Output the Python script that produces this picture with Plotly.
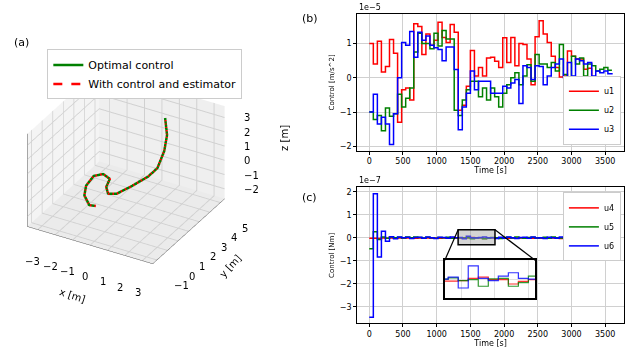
import plotly.graph_objects as go

# ---------------- data ----------------
STEP_TIMES = list(range(0, 3601, 60))  # s

u1 = [1.0, 0.4, 1.07, 0.17, 0.33, 1.12, 0.72, -1.3, -0.35, -0.3,
      -0.65, 1.58, 1.5, 0.68, 1.28, 0.95, 1.1, 1.62, 1.18, 1.03,
      1.56, 1.33, -0.95, -0.8, -0.25, 0.8, 0.05, 0.3, 0.05, 0.58,
      0.6, 0.48, 0.3, 1.17, 0.45, 1.18, 0.35, 1.0, 0.97, 0.55,
      -0.2, 1.2, 1.67, 1.28, 1.03, 0.63, 0.3, 0.02, 0.05, 0.78,
      0.63, 0.55, 0.55, 0.25, 0.28, 0.0, -0.02, -0.05, -0.03, -0.03, -0.03]
u2 = [-1.0, -1.22, -1.1, -1.55, -0.88, -1.12, -1.05, -0.48, -0.85, -0.6,
      -0.3, 0.75, 1.3, 1.0, 1.0, 0.85, 1.3, 0.93, 1.38, 1.13,
      1.13, -0.95, -1.1, -0.65, -0.35, -0.1, -0.1, -0.55, -0.3, -0.65,
      -0.3, -0.55, -0.85, -0.45, -0.2, 0.0, 0.15, -0.2, 0.05, 0.38,
      -0.1, 0.68, 0.4, 0.4, 0.3, 0.45, 0.2, 0.97, 0.1, 0.0,
      0.63, 0.4, 0.58, 0.05, 0.4, 0.35, 0.2, 0.25, 0.3, 0.22, 0.22]
u3 = [-1.0, -0.48, -1.35, -1.15, -1.35, -1.95, -1.05, 0.0, 1.03, 0.95,
      1.35, 0.6, 1.33, 1.1, 1.22, 0.95, 0.88, 0.83, 0.5, 0.9,
      0.9, 0.24, -1.52, -0.85, -0.45, 0.2, -0.35, -0.1, -0.1, -0.1,
      -0.45, -0.45, -0.45, -0.25, -0.3, -0.15, -0.05, -0.75, 0.35, 0.3,
      -0.05, 0.35, 0.33, -0.2, 0.05, 0.3, 0.4, 0.55, 0.0, 0.45,
      0.05, 0.55, 0.5, 0.4, 0.45, 0.05, 0.2, 0.15, 0.2, 0.12, 0.1]

u4 = [-0.02, -0.02, -0.03, -0.01, -0.02, -0.01, -0.02, -0.01, -0.02, -0.01,
      -0.01, -0.02, -0.01, -0.02, -0.01, -0.02, -0.01, -0.02, -0.01, -0.02,
      -0.01, -0.01, -0.01, -0.007, 0.004, 0.011, -0.002, -0.002, -0.025, -0.011,
      -0.002, -0.01, -0.02, -0.01, -0.02, -0.01, -0.02, -0.01, -0.02, -0.01,
      -0.02, -0.01, -0.02, -0.01, -0.02, -0.01, -0.02, -0.03, -0.02, -0.01,
      -0.02, -0.01, -0.02, -0.01, -0.02, -0.03, -0.02, -0.03, -0.04, -0.05, -0.05]
u5 = [-0.48, 0.26, -0.07, 0.04, -0.02, 0.03, 0.0, 0.02, -0.01, 0.03,
      0.0, 0.03, 0.01, -0.01, 0.02, 0.0, -0.02, 0.01, 0.0, 0.02,
      -0.02, 0.0, 0.007, -0.007, -0.002, -0.037, 0.002, 0.004, -0.037, -0.018,
      0.016, 0.0, -0.03, 0.01, 0.02, -0.01, 0.03, 0.0, -0.02, 0.01,
      0.02, -0.01, 0.0, 0.02, -0.02, 0.03, 0.0, -0.01, 0.02, -0.02,
      0.01, 0.0, -0.03, 0.02, 0.0, -0.02, -0.03, -0.04, -0.05, -0.06, -0.06]
u6 = [-3.45, 1.92, -0.83, 0.28, -0.15, 0.05, -0.04, 0.03, 0.0, 0.02,
      -0.03, 0.01, 0.02, -0.02, 0.03, 0.0, -0.03, 0.02, 0.01, -0.02,
      0.03, 0.0, 0.011, -0.046, 0.07, 0.004, -0.007, 0.016, 0.034, 0.004,
      0.0, -0.03, 0.02, -0.02, 0.03, 0.0, -0.03, 0.01, 0.02, -0.02,
      0.03, -0.01, 0.0, -0.03, 0.02, 0.0, -0.02, 0.03, -0.01, 0.02,
      -0.02, 0.0, 0.03, -0.01, 0.02, -0.02, -0.01, -0.03, -0.04, -0.06, -0.06]

traj_x = [-1.35, -1.61, -2.15, -2.40, -2.40, -2.01, -1.49, -1.27, -0.86, -0.42, 0.07, 0.66, 1.07, 1.23, 1.27, 1.05]
traj_y = [1.37, 1.17, 1.60, 2.18, 2.90, 3.16, 2.93, 2.22, 1.72, 1.81, 2.43, 3.00, 3.21, 3.59, 3.79, 3.97]
traj_z = [-2.3, -2.2, -2.0, -1.8, -1.6, -1.5, -1.5, -1.5, -1.5, -1.4, -1.1, -0.6, 0.0, 1.0, 2.0, 3.0]

X_TICKS = [-3, -2, -1, 0, 1, 2, 3]
Y_TICKS = [-1, 0, 1, 2, 3, 4, 5]
Z_TICKS = [-2, -1, 0, 1, 2, 3]

# ---------------- style ----------------
FONT = "DejaVu Sans"
RED, GREEN, BLUE = "#ff0000", "#008000", "#0000ff"
GRID = "#d0d0d0"
SX, SY, SZ = [-3.6, 3.6], [-1.4, 5.4], [-2.7, 3.8]

def lbl(v):
    return str(v).replace("-", "\u2212")

fig = go.Figure()

# (a) 3D trajectory
fig.add_trace(go.Scatter3d(x=traj_x, y=traj_y, z=traj_z, mode="lines",
                           line=dict(color=GREEN, width=5), name="Optimal control",
                           showlegend=False, scene="scene"))
fig.add_trace(go.Scatter3d(x=traj_x, y=traj_y, z=traj_z, mode="lines",
                           line=dict(color=RED, width=5, dash="dash"),
                           name="With control and estimator",
                           showlegend=False, scene="scene"))
# legend entries for (a)
fig.add_trace(go.Scatter(x=[None], y=[None], mode="lines", line=dict(color=GREEN, width=2.5),
                         name="Optimal control", legend="legend3", xaxis="x", yaxis="y"))
fig.add_trace(go.Scatter(x=[None], y=[None], mode="lines", line=dict(color=RED, width=2.5, dash="dash"),
                         name="With control and estimator", legend="legend3", xaxis="x", yaxis="y"))

# (b)
for name, vals, col in (("u1", u1, RED), ("u2", u2, GREEN), ("u3", u3, BLUE)):
    fig.add_trace(go.Scatter(x=STEP_TIMES, y=vals, mode="lines", line_shape="hv",
                             line=dict(color=col, width=1.5), name=name,
                             xaxis="x", yaxis="y", legend="legend"))
# (c)
for name, vals, col in (("u4", u4, RED), ("u5", u5, GREEN), ("u6", u6, BLUE)):
    fig.add_trace(go.Scatter(x=STEP_TIMES, y=vals, mode="lines", line_shape="hv",
                             line=dict(color=col, width=1.5), name=name,
                             xaxis="x2", yaxis="y2", legend="legend2"))
# inset
for vals, col in ((u4, RED), (u5, GREEN), (u6, BLUE)):
    fig.add_trace(go.Scatter(x=STEP_TIMES, y=vals, mode="lines", line_shape="hv",
                             line=dict(color=col, width=1.2), opacity=0.8,
                             showlegend=False, xaxis="x3", yaxis="y3"))

axis_common = dict(showline=True, linecolor="black", linewidth=1, mirror=True,
                   showgrid=True, gridcolor=GRID, gridwidth=1, zeroline=False,
                   ticks="outside", ticklen=3, tickcolor="black",
                   tickfont=dict(family=FONT, size=8, color="black"))

B_DOM_X = [0.566, 0.989]
B_DOM_Y = [0.573, 0.960]
C_DOM_Y = [0.084, 0.469]
XR = [-180, 3780]
C_YR = [-3.72, 2.19]
INSET_DOM_X = [0.705, 0.848]
INSET_DOM_Y = [0.155, 0.263]
INSET_XR = [1300, 1840]
INSET_YR = [-0.1, 0.1]
BOX_X = [1318, 1865]
BOX_Y = [-0.3, 0.35]

scene_axis = dict(showbackground=True, gridcolor=GRID, zeroline=False, showspikes=False,
                  showticklabels=False, title=dict(text=""),
                  linecolor="#555555", showline=True)

# 3D tick labels & axis titles placed like matplotlib (horizontal text)
tick_font = dict(family=FONT, size=10, color="black")
scene_anns = []
for v in X_TICKS:
    scene_anns.append(dict(x=v, y=SY[0], z=SZ[0], text=lbl(v), showarrow=False,
                           xshift=-5, yshift=-31, font=tick_font))
for v in Y_TICKS:
    scene_anns.append(dict(x=SX[1], y=v, z=SZ[0], text=lbl(v), showarrow=False,
                           xshift=24, yshift=-25, font=tick_font))
for v in Z_TICKS:
    scene_anns.append(dict(x=SX[1], y=SY[1], z=v, text=lbl(v), showarrow=False,
                           xanchor="left", xshift=17, yshift=0, font=tick_font))
scene_anns.append(dict(x=0, y=SY[0], z=SZ[0], text="x [m]", showarrow=False,
                       xshift=-18, yshift=-50, textangle=18, font=dict(family=FONT, size=10)))
scene_anns.append(dict(x=SX[1], y=2, z=SZ[0], text="y [m]", showarrow=False,
                       xshift=42, yshift=-34, textangle=-48, font=dict(family=FONT, size=10)))
scene_anns.append(dict(x=SX[1], y=SY[1], z=1.6, text="z [m]", showarrow=False,
                       xshift=60, yshift=0, textangle=-90, font=dict(family=FONT, size=10)))

fig.update_layout(
    width=631, height=353, margin=dict(l=0, r=0, t=0, b=0),
    paper_bgcolor="white", plot_bgcolor="white",
    font=dict(family=FONT, size=8, color="black"),
    xaxis=dict(domain=B_DOM_X, anchor="y", range=XR, dtick=500, tick0=0,
               title=dict(text="Time [s]", font=dict(size=8), standoff=2), **axis_common),
    yaxis=dict(domain=B_DOM_Y, anchor="x", range=[-2.13, 1.86], tickvals=[-2, -1, 0, 1],
               ticktext=[lbl(v) for v in [-2, -1, 0, 1]],
               title=dict(text="Control [m/s^2]", font=dict(size=7), standoff=4), **axis_common),
    xaxis2=dict(domain=B_DOM_X, anchor="y2", range=XR, dtick=500, tick0=0,
                title=dict(text="Time [s]", font=dict(size=8), standoff=2), **axis_common),
    yaxis2=dict(domain=C_DOM_Y, anchor="x2", range=C_YR, tickvals=[-3, -2, -1, 0, 1, 2],
                ticktext=[lbl(v) for v in [-3, -2, -1, 0, 1, 2]],
                title=dict(text="Control [Nm]", font=dict(size=7), standoff=4), **axis_common),
    xaxis3=dict(domain=INSET_DOM_X, anchor="y3", range=INSET_XR, showticklabels=False,
                showline=True, linecolor="black", linewidth=1.5, mirror=True, ticks="",
                showgrid=True, gridcolor="#e0e0e0", dtick=200, tick0=0, zeroline=False),
    yaxis3=dict(domain=INSET_DOM_Y, anchor="x3", range=INSET_YR, showticklabels=False,
                showline=True, linecolor="black", linewidth=1.5, mirror=True, ticks="",
                showgrid=True, gridcolor="#e0e0e0", tickvals=[0], zeroline=False),
    scene=dict(
        domain=dict(x=[0.0, 0.40], y=[0.10, 0.92]),
        aspectmode="manual", aspectratio=dict(x=1, y=1, z=0.75),
        camera=dict(eye=dict(x=0.82, y=-1.43, z=0.95), center=dict(x=0, y=0, z=-0.05),
                    projection=dict(type="orthographic")),
        xaxis=dict(range=SX, tickvals=X_TICKS, backgroundcolor="#f4f4f4", **scene_axis),
        yaxis=dict(range=SY, tickvals=Y_TICKS, backgroundcolor="#efefef", **scene_axis),
        zaxis=dict(range=SZ, tickvals=Z_TICKS, backgroundcolor="#ebebeb", **scene_axis),
        annotations=scene_anns,
    ),
    legend=dict(x=0.984, y=0.59, xanchor="right", yanchor="bottom",
                bgcolor="white", bordercolor="#cccccc", borderwidth=1,
                font=dict(size=8), itemwidth=30, tracegroupgap=0),
    legend2=dict(x=0.984, y=0.455, xanchor="right", yanchor="top",
                 bgcolor="white", bordercolor="#cccccc", borderwidth=1,
                 font=dict(size=8), itemwidth=30),
    legend3=dict(x=0.075, y=0.86, xanchor="left", yanchor="top",
                 bgcolor="white", bordercolor="#cccccc", borderwidth=1,
                 font=dict(size=11), itemwidth=30),
)

# zoom box in (c) and connector lines
fig.add_shape(type="rect", xref="x2", yref="y2", x0=BOX_X[0], x1=BOX_X[1], y0=BOX_Y[0], y1=BOX_Y[1],
              fillcolor="rgba(160,160,160,0.45)", line=dict(color="black", width=1.5), layer="above")

def to_paper_x(t):
    return B_DOM_X[0] + (t - XR[0]) / (XR[1] - XR[0]) * (B_DOM_X[1] - B_DOM_X[0])

def to_paper_y(v):
    return C_DOM_Y[0] + (v - C_YR[0]) / (C_YR[1] - C_YR[0]) * (C_DOM_Y[1] - C_DOM_Y[0])

fig.add_shape(type="line", xref="paper", yref="paper",
              x0=to_paper_x(BOX_X[0]), y0=to_paper_y(BOX_Y[1]),
              x1=INSET_DOM_X[0], y1=INSET_DOM_Y[1], line=dict(color="black", width=1.2))
fig.add_shape(type="line", xref="paper", yref="paper",
              x0=to_paper_x(BOX_X[1]), y0=to_paper_y(BOX_Y[1]),
              x1=INSET_DOM_X[1], y1=INSET_DOM_Y[1], line=dict(color="black", width=1.2))

# annotations
anns = [
    dict(text="(a)", x=12 / 631, y=1 - 42 / 353),
    dict(text="(b)", x=300 / 631, y=1 - 18 / 353),
    dict(text="(c)", x=300 / 631, y=1 - 197 / 353),
]
for a in anns:
    fig.add_annotation(text=a["text"], x=a["x"], y=a["y"], xref="paper", yref="paper",
                       showarrow=False, xanchor="left", yanchor="middle",
                       font=dict(family=FONT, size=11, color="black"))
fig.add_annotation(text="1e\u22125", x=B_DOM_X[0], y=B_DOM_Y[1], xref="paper", yref="paper",
                   showarrow=False, xanchor="left", yanchor="bottom", font=dict(size=8))
fig.add_annotation(text="1e\u22127", x=B_DOM_X[0], y=C_DOM_Y[1], xref="paper", yref="paper",
                   showarrow=False, xanchor="left", yanchor="bottom", font=dict(size=8))

fig.write_html("out.html", config={"displayModeBar": False},
               post_script="document.body.style.margin='0';document.body.style.overflow='hidden';")
